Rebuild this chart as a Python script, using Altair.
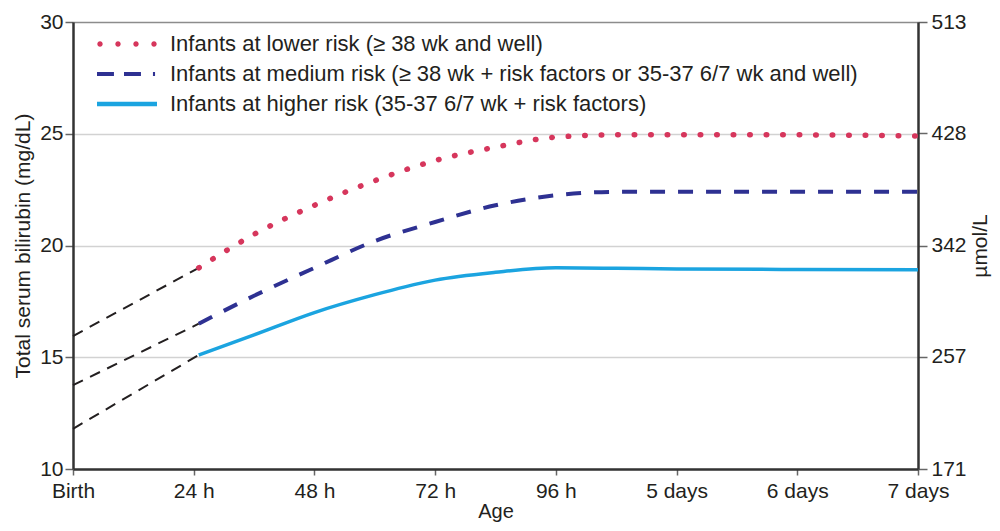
import altair as alt
import pandas as pd

# ---------------- data ----------------
series_names = [
    "Infants at lower risk (\u2265 38 wk and well)",
    "Infants at medium risk (\u2265 38 wk + risk factors or 35-37 6/7 wk and well)",
    "Infants at higher risk (35-37 6/7 wk + risk factors)",
]
series_colors = ["#d6365c", "#2e3192", "#1ba4e0"]

hours_lower = [25, 36, 48, 60, 72, 84, 96, 108, 120, 144, 168]
tsb_lower = [19.0, 20.5, 21.8, 22.9, 23.8, 24.4, 24.85, 24.95, 24.95, 24.95, 24.9]

hours_medium = [25, 36, 48, 60, 72, 84, 96, 108, 120, 144, 168]
tsb_medium = [16.5, 17.75, 19.0, 20.2, 21.05, 21.8, 22.25, 22.4, 22.4, 22.4, 22.4]

hours_higher = [25, 36, 48, 60, 66, 72, 84, 96, 108, 120, 144, 168]
tsb_higher = [15.1, 16.0, 17.0, 17.8, 18.15, 18.45, 18.8, 19.0, 18.98, 18.95, 18.93, 18.92]

ext_hours = [0, 25]
ext_start = [15.95, 13.75, 11.8]
ext_end = [19.0, 16.5, 15.1]

x_tick_values = [0, 24, 48, 72, 96, 120, 144, 168]
x_tick_labels = ["Birth", "24 h", "48 h", "72 h", "96 h", "5 days", "6 days", "7 days"]
y_ticks_mg = [10, 15, 20, 25, 30]
y_ticks_umol = [171, 257, 342, 428, 513]
umol_per_mg = 17.1

# ---------------- tables ----------------
def series_df(name, hours, vals):
    return pd.DataFrame({"series": name, "hour": hours, "tsb": vals})

df_lower = series_df(series_names[0], hours_lower, tsb_lower)
df_medium = series_df(series_names[1], hours_medium, tsb_medium)
df_higher = series_df(series_names[2], hours_higher, tsb_higher)
df_all = pd.concat([df_lower, df_medium, df_higher], ignore_index=True)

ext_rows = []
for i, (a, b) in enumerate(zip(ext_start, ext_end)):
    ext_rows.append({"grp": i, "hour": ext_hours[0], "tsb": a})
    ext_rows.append({"grp": i, "hour": ext_hours[1], "tsb": b})
df_ext = pd.DataFrame(ext_rows)

df_umol = df_higher.assign(umol=df_higher["tsb"] * umol_per_mg)

# ---------------- encodings ----------------
FONT = "Liberation Sans"
TXT = "#231f20"
TICK_FS = 21

label_expr = ""
for v, l in zip(x_tick_values, x_tick_labels):
    label_expr += f"datum.value == {v} ? '{l}' : "
label_expr += "''"

x_enc = alt.X(
    "hour:Q",
    scale=alt.Scale(domain=[0, 168], nice=False, zero=False),
    axis=alt.Axis(
        values=x_tick_values, labelExpr=label_expr, title="Age", grid=False,
        tickSize=6, tickColor="#666666", tickWidth=1.5,
        domainColor="#333333", domainWidth=2.5,
        labelPadding=5, labelFlush=False,
        titleY=48, titleBaseline="alphabetic", titleFontSize=20,
    ),
)

y_enc = alt.Y(
    "tsb:Q",
    scale=alt.Scale(domain=[10, 30], nice=False, zero=False),
    axis=alt.Axis(
        values=y_ticks_mg, title="Total serum bilirubin (mg/dL)",
        grid=True,
        gridColor={"condition": {"test": "datum.value == 30", "value": "#8c8c8c"}, "value": "#d2d2d2"},
        gridWidth=1.3,
        tickSize=8, tickColor="#666666", tickWidth=1.5,
        domainColor="#333333", domainWidth=2.5,
        labelPadding=2, titlePadding=6,
    ),
)

# ---------------- legend shapes (custom paths, unit = sqrt(size)/2) ----------------
def circle(cx, r):
    return f"M{cx - r},0 a{r},{r} 0 1,0 {2 * r},0 a{r},{r} 0 1,0 {-2 * r},0 Z"

def rect(x0, x1, h):
    return f"M{x0},{-h} L{x1},{-h} L{x1},{h} L{x0},{h} Z"

path_dots = " ".join(circle(c, 0.18) for c in [-0.8, 0.4, 1.6, 2.8])
path_dash = " ".join([rect(-1, 0.13, 0.14), rect(0.8, 1.93, 0.14), rect(2.73, 2.87, 0.14)])
path_solid = rect(-1, 3, 0.15)

legend = alt.Legend(
    title=None, orient="none", legendX=24, legendY=7, direction="vertical",
    labelFont=FONT, labelFontSize=22, labelColor=TXT, labelLimit=900,
    labelOffset=43, rowPadding=4, padding=0, symbolSize=900,
    symbolStrokeWidth=0, symbolOpacity=1,
)

# ---------------- layers ----------------
ext_layer = alt.Chart(df_ext).mark_line(
    color="#231f20", strokeWidth=2, strokeDash=[11, 8]
).encode(x=x_enc, y=y_enc, detail="grp:N")

lower_layer = alt.Chart(df_lower).mark_line(
    color=series_colors[0], strokeWidth=5.5, strokeDash=[0.5, 16], strokeCap="round",
    interpolate="monotone",
).encode(x=x_enc, y=y_enc)

medium_layer = alt.Chart(df_medium).mark_line(
    color=series_colors[1], strokeWidth=4, strokeDash=[15, 13],
    interpolate="monotone",
).encode(x=x_enc, y=y_enc)

higher_layer = alt.Chart(df_higher).mark_line(
    color=series_colors[2], strokeWidth=3.5, interpolate="monotone",
).encode(x=x_enc, y=y_enc)

legend_layer = alt.Chart(df_all).transform_filter(
    "datum.hour < 0"
).mark_point(filled=True, size=900, opacity=1).encode(
    x=x_enc, y=y_enc,
    color=alt.Color("series:N", scale=alt.Scale(domain=series_names, range=series_colors), legend=legend),
    shape=alt.Shape("series:N", scale=alt.Scale(domain=series_names, range=[path_dots, path_dash, path_solid]), legend=legend),
)

left = alt.layer(ext_layer, higher_layer, medium_layer, lower_layer, legend_layer)

right = alt.Chart(df_umol).mark_line(opacity=0).encode(
    x=x_enc,
    y=alt.Y(
        "umol:Q",
        scale=alt.Scale(domain=[171, 513], nice=False, zero=False),
        axis=alt.Axis(
            orient="right", values=y_ticks_umol, title="\u00b5mol/L", grid=False,
            tickSize=9, tickColor="#666666", tickWidth=1.5,
            domainColor="#333333", domainWidth=2.5,
            labelPadding=4, titlePadding=3, titleAngle=270, titleBaseline="top",
        ),
    ),
)

chart = alt.layer(left, right).resolve_scale(y="independent").properties(
    width=845, height=447,
    background="white",
    autosize=alt.AutoSizeParams(type="none"),
    padding={"left": 65, "top": 14, "right": 74, "bottom": 54},
).configure_view(
    stroke="#8c8c8c", strokeWidth=1
).configure_axis(
    labelFont=FONT, labelFontSize=TICK_FS, labelColor=TXT,
    titleFont=FONT, titleFontSize=21, titleColor=TXT, titleFontWeight="normal",
)

chart.save("out.html", embed_options={"renderer": "svg", "actions": False})
